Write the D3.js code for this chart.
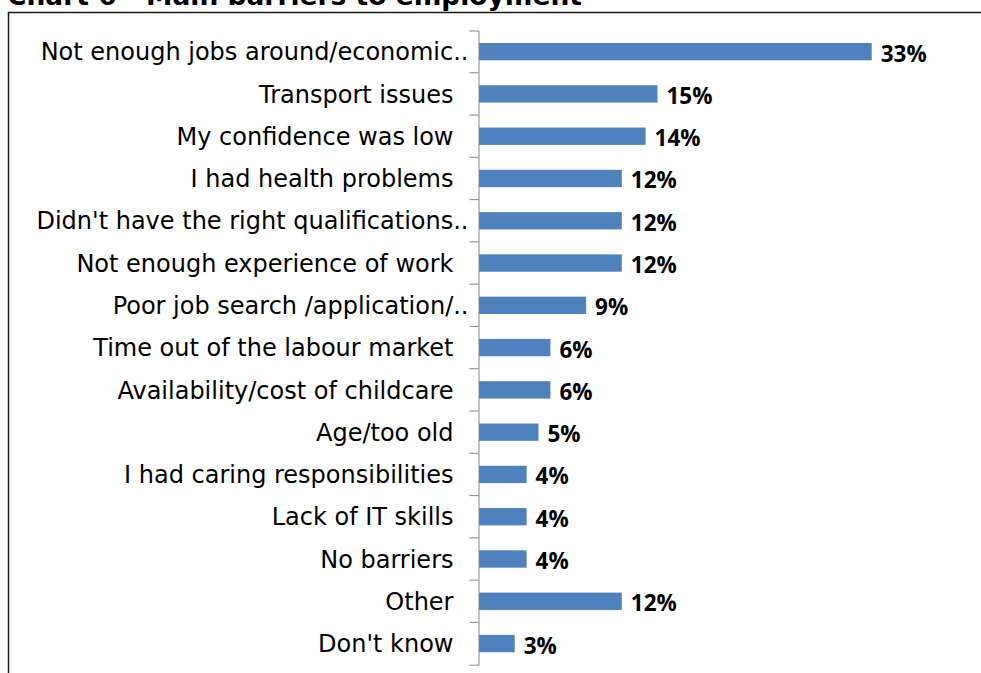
<!DOCTYPE html>
<html>
<head>
<meta charset="utf-8">
<script src="https://cdn.jsdelivr.net/npm/d3@7"></script>
<style>
  html, body { margin: 0; padding: 0; background: #fff; }
  svg { display: block; }
</style>
</head>
<body>
<script>
// Survey responses: main barriers to employment (% of respondents)
const title = "Chart 6 - Main barriers to employment";
const categories = [
  "Not enough jobs around/economic..",
  "Transport issues",
  "My confidence was low",
  "I had health problems",
  "Didn't have the right qualifications..",
  "Not enough experience of work",
  "Poor job search /application/..",
  "Time out of the labour market",
  "Availability/cost of childcare",
  "Age/too old",
  "I had caring responsibilities",
  "Lack of IT skills",
  "No barriers",
  "Other",
  "Don't know"
];
const values = [33, 15, 14, 12, 12, 12, 9, 6, 6, 5, 4, 4, 4, 12, 3];
const xMax = 35;

const W = 981, H = 673;
const svg = d3.select("body").append("svg").attr("width", W).attr("height", H);

// chart frame (extends past the right and bottom edges)
svg.append("rect")
  .attr("x", 8.5).attr("y", 12.5)
  .attr("width", 1000).attr("height", 700)
  .attr("fill", "none").attr("stroke", "#1a1a1a").attr("stroke-width", 1.5);

// title, partly cut off by the top edge
svg.append("text")
  .attr("x", 7).attr("y", 4.5)
  .attr("font-family", "DejaVu Sans, Verdana, sans-serif")
  .attr("font-weight", "bold")
  .attr("font-size", 26.5)
  .attr("fill", "#000")
  .text(title);

const axisX = 478.5;
const x = d3.scaleLinear().domain([0, xMax]).range([479, 895.5]);
const y = d3.scaleBand().domain(categories).range([30.5, 664.7])
  .paddingInner(0.59).paddingOuter(0.295);

// bars
svg.append("g").selectAll("rect")
  .data(values)
  .join("rect")
  .attr("x", x(0))
  .attr("y", (d, i) => y(categories[i]))
  .attr("width", d => x(d) - x(0))
  .attr("height", y.bandwidth())
  .attr("fill", "#4F81BD");

// category axis with outer ticks at top and bottom
const axis = d3.axisLeft(y).tickSizeInner(0).tickSizeOuter(9).tickPadding(10);
const gAxis = svg.append("g").attr("transform", `translate(${axisX},0)`).call(axis);
gAxis.select(".domain").attr("stroke", "#868686").attr("stroke-width", 1);
gAxis.selectAll(".tick line").remove();
gAxis.selectAll(".tick text")
  .attr("font-family", "DejaVu Sans, Verdana, sans-serif")
  .attr("font-size", 24)
  .attr("fill", "#000")
  .attr("dy", "0.36em")
  .attr("x", d => d.endsWith("..") ? -10 : -25);

// tick marks between categories
const step = y.step();
const bounds = d3.range(1, categories.length).map(i => y.range()[0] + i * step);
svg.append("g").selectAll("line")
  .data(bounds)
  .join("line")
  .attr("x1", axisX - 9).attr("x2", axisX)
  .attr("y1", d => d).attr("y2", d => d)
  .attr("stroke", "#868686").attr("stroke-width", 1);

// value labels
svg.append("g").selectAll("text")
  .data(values)
  .join("text")
  .attr("x", d => x(d) + 9)
  .attr("y", (d, i) => y(categories[i]) + y.bandwidth() / 2 + 10)
  .attr("font-family", "Open Sans, sans-serif")
  .attr("font-weight", "bold")
  .attr("font-size", 22.5)
  .attr("fill", "#000")
  .text(d => d + "%");
</script>
</body>
</html>
